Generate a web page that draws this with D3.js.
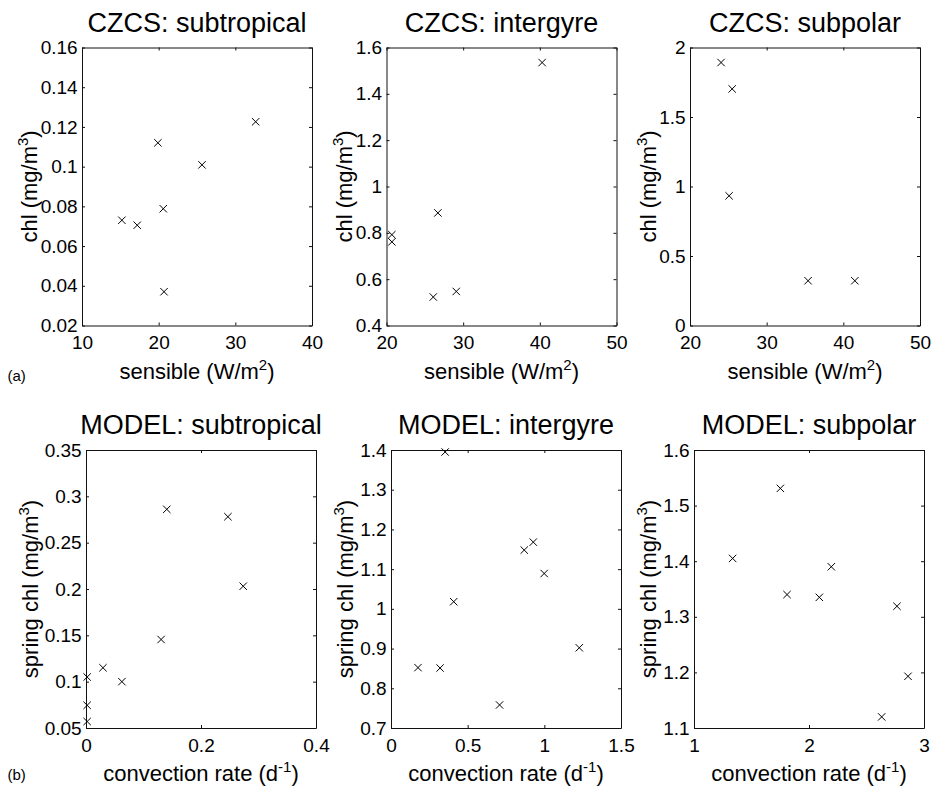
<!DOCTYPE html>
<html>
<head>
<meta charset="utf-8">
<script src="https://cdn.jsdelivr.net/npm/d3@7"></script>
<style>
  body { margin: 0; background: #fff; }
  svg { display: block; font-family: "Liberation Sans", Arial, Helvetica, sans-serif; }
</style>
</head>
<body>
<svg id="chart" width="931" height="789"></svg>
<script>
// ---- Data ----
const czcsSubtropX = [15.2, 17.2, 19.9, 20.6, 20.7, 25.65, 32.65];
const czcsSubtropY = [0.073, 0.0705, 0.112, 0.0788, 0.037, 0.1009, 0.1226];

const czcsIntergyreX = [20.7, 20.7, 26.7, 26.1, 29.1, 40.3];
const czcsIntergyreY = [0.792, 0.761, 0.886, 0.523, 0.547, 1.535];

const czcsSubpolarX = [24.05, 25.5, 25.1, 35.4, 41.5];
const czcsSubpolarY = [1.892, 1.702, 0.933, 0.322, 0.322];

const modelSubtropX = [0.002, 0.002, 0.002, 0.0295, 0.0624, 0.1306, 0.1405, 0.2468, 0.2734];
const modelSubtropY = [0.105, 0.0745, 0.057, 0.115, 0.100, 0.1455, 0.286, 0.278, 0.203];

const modelIntergyreX = [0.176, 0.32, 0.353, 0.409, 0.708, 0.869, 0.928, 0.999, 1.228];
const modelIntergyreY = [0.852, 0.851, 1.395, 1.018, 0.758, 1.148, 1.168, 1.089, 0.902];

const modelSubpolarX = [1.336, 1.751, 1.809, 2.09, 2.194, 2.632, 2.765, 2.861];
const modelSubpolarY = [1.405, 1.531, 1.340, 1.335, 1.390, 1.120, 1.319, 1.193];

// Tick values
const xTicksCzcsSubtrop = [10, 20, 30, 40];
const yTicksCzcsSubtrop = [0.02, 0.04, 0.06, 0.08, 0.1, 0.12, 0.14, 0.16];
const xTicksCzcsIntergyre = [20, 30, 40, 50];
const yTicksCzcsIntergyre = [0.4, 0.6, 0.8, 1, 1.2, 1.4, 1.6];
const xTicksCzcsSubpolar = [20, 30, 40, 50];
const yTicksCzcsSubpolar = [0, 0.5, 1, 1.5, 2];
const xTicksModelSubtrop = [0, 0.2, 0.4];
const yTicksModelSubtrop = [0.05, 0.1, 0.15, 0.2, 0.25, 0.3, 0.35];
const xTicksModelIntergyre = [0, 0.5, 1, 1.5];
const yTicksModelIntergyre = [0.7, 0.8, 0.9, 1, 1.1, 1.2, 1.3, 1.4];
const xTicksModelSubpolar = [1, 2, 3];
const yTicksModelSubpolar = [1.1, 1.2, 1.3, 1.4, 1.5, 1.6];

// Titles and labels
const titles = ["CZCS: subtropical", "CZCS: intergyre", "CZCS: subpolar",
                "MODEL: subtropical", "MODEL: intergyre", "MODEL: subpolar"];
const rowLetters = ["(a)", "(b)"];

// ---- Panels (built from the arrays above) ----
const panels = [
  {title: titles[0], xs: czcsSubtropX, ys: czcsSubtropY, xt: xTicksCzcsSubtrop, yt: yTicksCzcsSubtrop, row: 0, col: 0},
  {title: titles[1], xs: czcsIntergyreX, ys: czcsIntergyreY, xt: xTicksCzcsIntergyre, yt: yTicksCzcsIntergyre, row: 0, col: 1},
  {title: titles[2], xs: czcsSubpolarX, ys: czcsSubpolarY, xt: xTicksCzcsSubpolar, yt: yTicksCzcsSubpolar, row: 0, col: 2},
  {title: titles[3], xs: modelSubtropX, ys: modelSubtropY, xt: xTicksModelSubtrop, yt: yTicksModelSubtrop, row: 1, col: 0},
  {title: titles[4], xs: modelIntergyreX, ys: modelIntergyreY, xt: xTicksModelIntergyre, yt: yTicksModelIntergyre, row: 1, col: 1},
  {title: titles[5], xs: modelSubpolarX, ys: modelSubpolarY, xt: xTicksModelSubpolar, yt: yTicksModelSubpolar, row: 1, col: 2}
];

// ---- Layout ----
const lefts = [[82, 386.5, 690], [86, 391, 694]];
const tops = [47.5, 450];
const W = 230, H = 278;
const ylabelGap = [3, 6.5];
const tickFont = 19, labelFont = 22, titleFont = 27, supFont = 15;

const svg = d3.select("#chart");
const fmt = v => String(v);

panels.forEach(p => {
  const L = lefts[p.row][p.col], T = tops[p.row];
  const g = svg.append("g").attr("transform", `translate(${L},${T})`);
  const x = d3.scaleLinear().domain(d3.extent(p.xt)).range([0, W]);
  const y = d3.scaleLinear().domain(d3.extent(p.yt)).range([H, 0]);

  // axes: inward ticks on all four sides (box)
  const ax = [
    g.append("g").attr("transform", `translate(0,${H})`)
      .call(d3.axisBottom(x).tickValues(p.xt).tickFormat(fmt).tickSizeInner(-3).tickSizeOuter(0).tickPadding(10.5)),
    g.append("g")
      .call(d3.axisLeft(y).tickValues(p.yt).tickFormat(fmt).tickSizeInner(-3).tickSizeOuter(0).tickPadding(4.4)),
    g.append("g")
      .call(d3.axisTop(x).tickValues(p.xt).tickFormat("").tickSizeInner(-3).tickSizeOuter(0)),
    g.append("g").attr("transform", `translate(${W},0)`)
      .call(d3.axisRight(y).tickValues(p.yt).tickFormat("").tickSizeInner(-3).tickSizeOuter(0))
  ];
  ax.forEach(a => {
    a.selectAll("path.domain").attr("stroke", "#111").attr("stroke-width", 1);
    a.selectAll(".tick line").attr("stroke", "#111").attr("stroke-width", 1);
    a.selectAll(".tick text").attr("fill", "#000").style("font-size", tickFont + "px")
      .style("font-family", '"Liberation Sans", Arial, Helvetica, sans-serif');
  });

  // markers (x)
  const pts = p.xs.map((v, i) => [v, p.ys[i]]);
  const s = 3.7;
  g.append("g").selectAll("path").data(pts).join("path")
    .attr("d", d => {
      const cx = x(d[0]), cy = y(d[1]);
      return `M${cx - s},${cy - s}L${cx + s},${cy + s}M${cx - s},${cy + s}L${cx + s},${cy - s}`;
    })
    .attr("stroke", "#000").attr("stroke-width", 1).attr("fill", "none");

  // title
  g.append("text").attr("x", W / 2).attr("y", -16).attr("text-anchor", "middle")
    .style("font-size", titleFont + "px").attr("fill", "#000").text(p.title);

  // x label
  const xl = g.append("text").attr("x", W / 2).attr("y", H + 53).attr("text-anchor", "middle")
    .style("font-size", labelFont + "px").attr("fill", "#000");
  if (p.row === 0) {
    xl.append("tspan").text("sensible (W/m");
    xl.append("tspan").attr("dy", -9).style("font-size", supFont + "px").text("2");
    xl.append("tspan").attr("dy", 9).text(")");
  } else {
    xl.append("tspan").text("convection rate (d");
    xl.append("tspan").attr("dy", -9).style("font-size", supFont + "px").text("-1");
    xl.append("tspan").attr("dy", 9).text(")");
  }

  // y label positioned from the widest tick label
  let maxW = 0;
  ax[1].selectAll(".tick text").each(function () { maxW = Math.max(maxW, this.getBBox().width); });
  const ylx = -4.4 - maxW - ylabelGap[p.row];
  const yl = g.append("text").attr("transform", `translate(${ylx},${H / 2}) rotate(-90)`)
    .attr("text-anchor", "middle").style("font-size", labelFont + "px").attr("fill", "#000");
  yl.append("tspan").text(p.row === 0 ? "chl (mg/m" : "spring chl (mg/m");
  yl.append("tspan").attr("dy", -9).style("font-size", supFont + "px").text("3");
  yl.append("tspan").attr("dy", 9).text(")");
});

// row letters
svg.append("text").attr("x", 7.5).attr("y", 381).style("font-size", "15px").attr("fill", "#000").text(rowLetters[0]);
svg.append("text").attr("x", 7.5).attr("y", 780).style("font-size", "15px").attr("fill", "#000").text(rowLetters[1]);
</script>
</body>
</html>
